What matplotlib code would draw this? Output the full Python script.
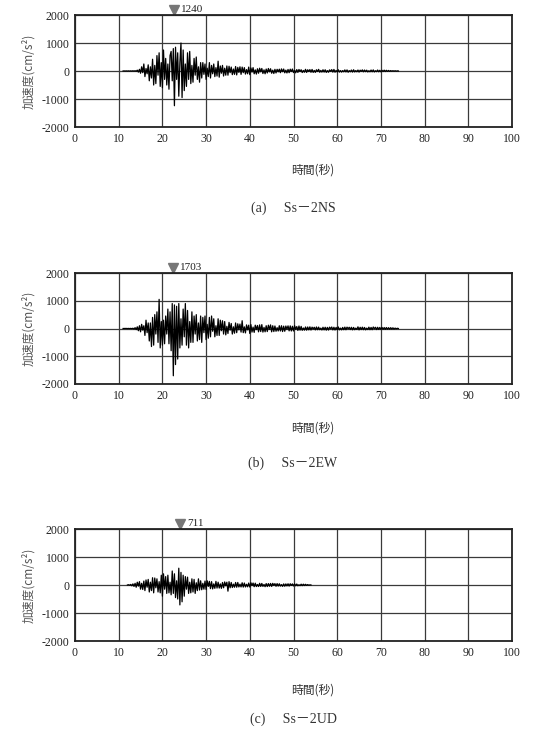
import numpy as np
import matplotlib
matplotlib.use("Agg")
import matplotlib.pyplot as plt

plt.rcParams["axes.unicode_minus"] = False

# ---------------- data (acceleration, cm/s^2, sampled every 0.25 s) ----------------
DT = 0.25
NS_T0 = 11.0
NS_ACC = [
    0, 2, -2, 3,            # 11
    -3, 4, -4, 5,           # 12
    -5, 8, -6, 10,          # 13
    -12, 30, -40, 60,       # 14
    -80, 150, -60, 250,     # 15
    -200, 90, -100, 220,    # 16
    -350, 150, -250, 420,   # 17
    -500, 200, -450, 550,   # 18
    -150, 650, -550, 300,   # 19
    -600, 750, -300, 450,   # 20
    -500, 250, -650, 550,   # 21
    700, -350, 800, -1240,  # 22
    850, -300, 650, -900,   # 23
    300, 1000, -950, 750,   # 24
    -700, 250, -550, 650,   # 25
    -300, 700, -450, 200,   # 26
    -400, 450, -150, 500,   # 27
    -300, 150, -400, 300,   # 28
    -250, 300, -120, 250,   # 29
    -300, 100, -200, 300,   # 30
    -250, 200, -100, 250,   # 31
    -200, 120, -180, 350,   # 32
    -220, 180, -80, 200,    # 33
    -180, 100, -150, 180,   # 34
    -150, 170, -60, 140,    # 35
    -130, 70, -120, 160,    # 36
    -140, 130, -50, 150,    # 37
    -120, 140, -60, 120,    # 38
    -110, 50, -100, 140,    # 39
    -130, 110, -40, 120,    # 40
    -100, 40, -110, 80,     # 41
    -80, 100, -30, 90,      # 42
    -90, 40, -100, 70,      # 43
    -70, 90, -30, 80,       # 44
    -80, 30, -90, 60,       # 45
    -70, 60, -30, 65,       # 46
    -60, 75, -25, 70,       # 47
    -65, 30, -70, 55,       # 48
    -60, 65, -20, 70,       # 49
    -55, 25, -65, 50,       # 50
    -50, 55, -20, 45,       # 51
    -55, 20, -45, 60,       # 52
    -50, 45, -20, 50,       # 53
    -45, 55, -50, 20,       # 54
    -50, 45, -20, 60,       # 55
    -45, 20, -40, 45,       # 56
    -40, 45, -50, 15,       # 57
    -45, 40, -15, 50,       # 58
    -40, 55, -45, 20,       # 59
    -35, 45, -40, 15,       # 60
    -40, 15, -30, 40,       # 61
    -35, 40, -45, 15,       # 62
    -30, 35, -40, 45,       # 63
    -35, 15, -30, 35,       # 64
    -40, 30, -15, 40,       # 65
    -30, 35, -25, 30,       # 66
    -35, 10, -30, 35,       # 67
    -30, 40, -35, 10,       # 68
    -25, 35, -30, 25,       # 69
    -30, 25, -20, 30,       # 70
    -20, 25, -15, 20,       # 71
    -15, 15, -10, 12,       # 72
    -8, 10, -6, 5,          # 73
    0,                      # 74
]

EW_T0 = 11.0
EW_ACC = [
    0, 1, -1, 2,            # 11
    -2, 3, -3, 4,           # 12
    -6, 10, -20, 30,        # 13
    -40, 60, -80, 100,      # 14
    -120, 150, -60, 100,    # 15
    -250, 300, -150, 200,   # 16
    -450, 200, -650, 400,   # 17
    -600, 500, -200, 600,   # 18
    -500, 1050, -700, 250,  # 19
    -600, 300, -550, 450,   # 20
    -200, 700, -550, 600,   # 21
    -800, 900, -1703, 850,  # 22
    -1300, 800, -1100, 900, # 23
    -700, 350, -600, 700,   # 24
    -300, 900, -600, 650,   # 25
    -700, 250, -500, 600,   # 26
    -500, 450, -200, 500,   # 27
    -450, 200, -400, 450,   # 28
    -500, 400, -150, 450,   # 29
    -400, 150, -350, 400,   # 30
    -300, 450, -100, 350,   # 31
    -300, 100, -250, 350,   # 32
    -250, 300, -80, 280,    # 33
    -200, 250, -230, 80,    # 34
    -180, 220, -60, 180,    # 35
    -200, 60, -170, 200,    # 36
    -150, 170, -50, 160,    # 37
    -130, 280, -150, 60,    # 38
    -160, 130, -50, 120,    # 39
    -180, 140, -130, 50,    # 40
    -140, 120, -40, 110,    # 41
    -120, 130, -110, 140,   # 42
    -130, 40, -120, 100,    # 43
    -110, 120, -30, 130,    # 44
    -120, 100, -110, 90,    # 45
    -100, 30, -90, 100,     # 46
    -90, 100, -110, 85,     # 47
    -100, 90, -30, 95,      # 48
    -85, 95, -90, 80,       # 49
    -90, 100, -30, 70,      # 50
    -70, 90, -60, 75,       # 51
    -65, 20, -60, 55,       # 52
    -60, 55, -50, 60,       # 53
    -55, 50, -20, 45,       # 54
    -50, 55, -45, 50,       # 55
    -45, 15, -55, 45,       # 56
    -50, 45, -60, 40,       # 57
    -55, 50, -15, 55,       # 58
    -50, 45, -55, 40,       # 59
    -45, 55, -50, 15,       # 60
    -50, 40, -45, 50,       # 61
    -45, 50, -15, 45,       # 62
    -40, 45, -50, 40,       # 63
    -45, 15, -35, 60,       # 64
    -50, 45, -40, 50,       # 65
    -45, 40, -50, 15,       # 66
    -40, 50, -45, 40,       # 67
    -45, 55, -15, 45,       # 68
    -40, 45, -35, 40,       # 69
    -35, 40, -30, 35,       # 70
    -30, 35, -25, 30,       # 71
    -25, 30, -20, 25,       # 72
    -20, 15, -10, 8,        # 73
    0,                      # 74
]

UD_T0 = 12.0
UD_ACC = [
    0, 10, -10, 20,         # 12
    -30, 40, -50, 60,       # 13
    -80, 100, -40, 120,     # 14
    -150, 60, -160, 140,    # 15
    -200, 180, -80, 200,    # 16
    -250, 100, -200, 260,   # 17
    -280, 250, -100, 220,   # 18
    -250, 120, -280, 350,   # 19
    -400, 400, -150, 300,   # 20
    -300, 350, -280, 100,   # 21
    -350, 500, -300, 400,   # 22
    -450, 150, -500, 600,   # 23
    -711, 450, -600, 350,   # 24
    -400, 300, -150, 280,   # 25
    -300, 100, -280, 220,   # 26
    -250, 200, -300, 80,    # 27
    -200, 220, -180, 150,   # 28
    -170, 60, -150, 140,    # 29
    -160, 150, -50, 130,    # 30
    -130, 120, -140, 40,    # 31
    -120, 130, -110, 100,   # 32
    -110, 40, -120, 90,     # 33
    -100, 110, -30, 100,    # 34
    -220, 120, -100, 90,    # 35
    -90, 30, -80, 90,       # 36
    -80, 90, -70, 30,       # 37
    -70, 80, -75, 70,       # 38
    -70, 25, -65, 70,       # 39
    -75, 80, -20, 70,       # 40
    -60, 65, -55, 20,       # 41
    -55, 60, -50, 55,       # 42
    -50, 20, -60, 50,       # 43
    -55, 50, -45, 55,       # 44
    -50, 60, -15, 50,       # 45
    -45, 50, -40, 45,       # 46
    -40, 15, -50, 40,       # 47
    -45, 40, -35, 45,       # 48
    -40, 45, -15, 40,       # 49
    -35, 40, -30, 35,       # 50
    -30, 10, -25, 30,       # 51
    -25, 30, -20, 25,       # 52
    -15, 15, -10, 5,        # 53
    0,                      # 54
]

CAPTIONS = ["(a)\u3000 Ss\uff0d2NS", "(b)\u3000 Ss\uff0d2EW", "(c)\u3000 Ss\uff0d2UD"]
X_TICKS = [0, 10, 20, 30, 40, 50, 60, 70, 80, 90, 100]
Y_TICKS = [-2000, -1000, 0, 1000, 2000]
YLABEL = "加速度(cm/s\u00b2)"
XLABEL = "時間(秒)"

# ---------------- layout ----------------
W, H = 538, 734
fig = plt.figure(figsize=(W / 100, H / 100), dpi=100)

SERIF = ["Liberation Serif", "DejaVu Serif"]
CJK = ["Noto Sans CJK JP", "DejaVu Sans"]
MIXED = ["Liberation Serif", "Noto Sans CJK JP"]

panels = [
    dict(t0=NS_T0, acc=NS_ACC, top=15, bot=127, xl=170, cap=208, cap_txt=CAPTIONS[0]),
    dict(t0=EW_T0, acc=EW_ACC, top=273, bot=384, xl=428, cap=463, cap_txt=CAPTIONS[1]),
    dict(t0=UD_T0, acc=UD_ACC, top=529, bot=641, xl=690, cap=719, cap_txt=CAPTIONS[2]),
]
LEFT, RIGHT = 75, 512

for p in panels:
    ax = fig.add_axes([LEFT / W, 1 - p["bot"] / H, (RIGHT - LEFT) / W, (p["bot"] - p["top"]) / H])
    acc = np.asarray(p["acc"], dtype=float)
    t = p["t0"] + DT * np.arange(len(acc))
    ax.plot(t, acc, color="black", lw=0.9)
    ax.set_xlim(0, 100)
    ax.set_ylim(-2000, 2000)
    ax.set_xticks(X_TICKS)
    ax.set_yticks(Y_TICKS)
    ax.grid(True, color="#3a3a3a", lw=0.9)
    ax.set_axisbelow(True)
    for s in ax.spines.values():
        s.set_linewidth(1.3)
        s.set_color("#222222")
    ax.tick_params(length=0, pad=4, labelsize=8.5, colors="#222222")
    for lab in ax.get_xticklabels() + ax.get_yticklabels():
        lab.set_family(SERIF)

    # peak marker
    i = int(np.argmax(np.abs(acc)))
    ax.plot([t[i]], [2170], marker="v", color="#777777", markersize=7, clip_on=False)
    ax.text(t[i] + 1.6, 2200, f"{int(abs(acc[i]))}", fontsize=8, family=SERIF,
            ha="left", va="center", color="#222222", clip_on=False)

    ymid = 1 - (p["top"] + p["bot"]) / 2 / H
    fig.text(28 / W, ymid, YLABEL, rotation=90, ha="center", va="center",
             fontsize=8.5, color="#555555", family=CJK)
    fig.text(313 / W, 1 - p["xl"] / H, XLABEL, ha="center", va="center",
             fontsize=8.5, color="#333333", family=CJK)
    fig.text(293 / W, 1 - p["cap"] / H, p["cap_txt"], ha="center", va="center",
             fontsize=10, color="#333333", family=MIXED)

fig.savefig("out.png", dpi=100, facecolor="white")
